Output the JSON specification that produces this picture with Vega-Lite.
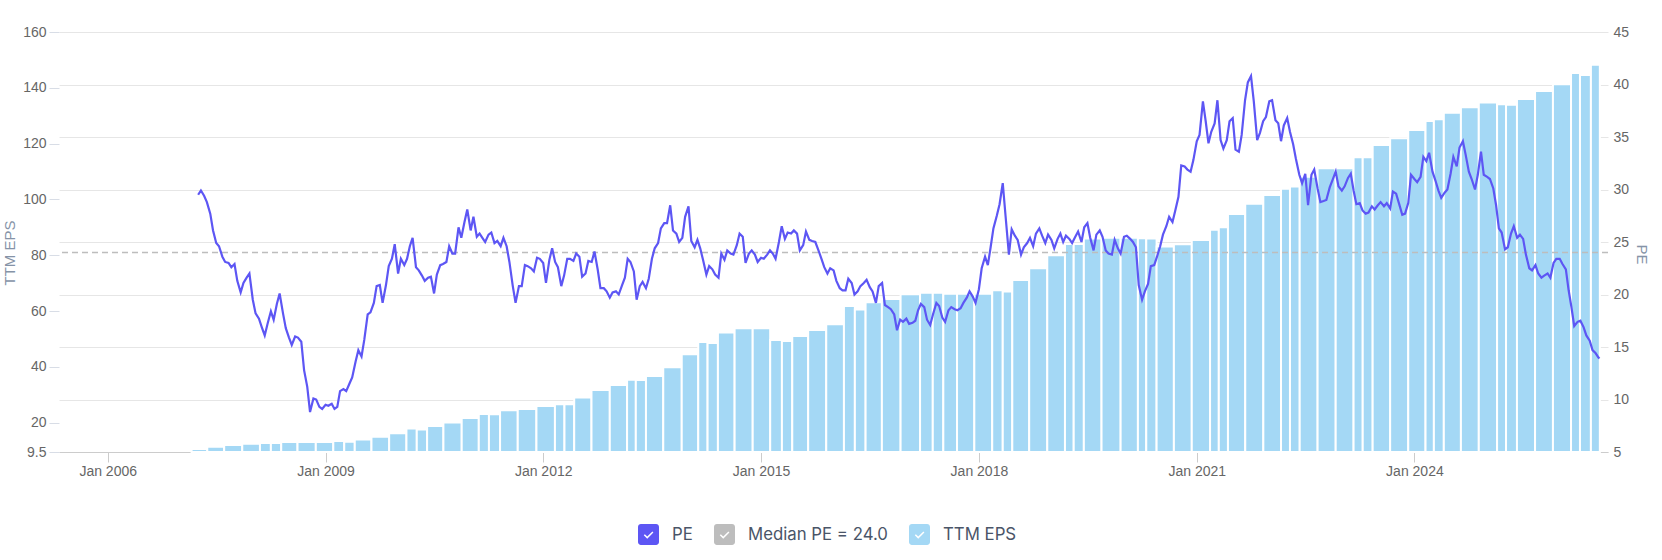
{
  "$schema": "https://vega.github.io/schema/vega-lite/v6.json",
  "width": 1549,
  "height": 420,
  "autosize": {"type": "none"},
  "padding": {"left": 59, "top": 32, "right": 54, "bottom": 108},
  "background": "white",
  "config": {
    "view": {"stroke": null},
    "font": "Liberation Sans",
    "axis": {"labelFont": "Liberation Sans", "titleFont": "Liberation Sans"}
  },
  "datasets": {
    "eps": [
      {"start": "2007-02-27", "end": "2007-05-17", "eps": 10.6},
      {"start": "2007-05-17", "end": "2007-08-10", "eps": 11.4},
      {"start": "2007-08-10", "end": "2007-11-09", "eps": 12.0},
      {"start": "2007-11-09", "end": "2008-02-06", "eps": 12.5},
      {"start": "2008-02-06", "end": "2008-04-01", "eps": 12.7},
      {"start": "2008-04-01", "end": "2008-05-23", "eps": 12.7},
      {"start": "2008-05-23", "end": "2008-08-13", "eps": 13.1},
      {"start": "2008-08-13", "end": "2008-11-13", "eps": 13.1},
      {"start": "2008-11-13", "end": "2009-02-09", "eps": 13.1},
      {"start": "2009-02-09", "end": "2009-04-05", "eps": 13.4},
      {"start": "2009-04-05", "end": "2009-05-28", "eps": 13.2},
      {"start": "2009-05-28", "end": "2009-08-20", "eps": 14.0},
      {"start": "2009-08-20", "end": "2009-11-17", "eps": 15.0},
      {"start": "2009-11-17", "end": "2010-02-12", "eps": 16.2},
      {"start": "2010-02-12", "end": "2010-04-05", "eps": 17.9},
      {"start": "2010-04-05", "end": "2010-05-27", "eps": 17.6},
      {"start": "2010-05-27", "end": "2010-08-17", "eps": 18.8},
      {"start": "2010-08-17", "end": "2010-11-17", "eps": 20.1},
      {"start": "2010-11-17", "end": "2011-02-11", "eps": 21.7},
      {"start": "2011-02-11", "end": "2011-04-03", "eps": 23.1},
      {"start": "2011-04-03", "end": "2011-05-29", "eps": 23.0},
      {"start": "2011-05-29", "end": "2011-08-26", "eps": 24.5},
      {"start": "2011-08-26", "end": "2011-11-28", "eps": 24.9},
      {"start": "2011-11-28", "end": "2012-02-29", "eps": 26.0},
      {"start": "2012-02-29", "end": "2012-04-17", "eps": 26.6},
      {"start": "2012-04-17", "end": "2012-06-05", "eps": 26.6},
      {"start": "2012-06-05", "end": "2012-08-31", "eps": 29.0},
      {"start": "2012-08-31", "end": "2012-12-01", "eps": 31.7},
      {"start": "2012-12-01", "end": "2013-02-26", "eps": 33.5},
      {"start": "2013-02-26", "end": "2013-04-11", "eps": 35.4},
      {"start": "2013-04-11", "end": "2013-06-01", "eps": 35.3},
      {"start": "2013-06-01", "end": "2013-08-27", "eps": 36.7},
      {"start": "2013-08-27", "end": "2013-11-28", "eps": 39.9},
      {"start": "2013-11-28", "end": "2014-02-19", "eps": 44.5},
      {"start": "2014-02-19", "end": "2014-04-07", "eps": 48.9},
      {"start": "2014-04-07", "end": "2014-05-29", "eps": 48.6},
      {"start": "2014-05-29", "end": "2014-08-21", "eps": 52.3},
      {"start": "2014-08-21", "end": "2014-11-20", "eps": 53.8},
      {"start": "2014-11-20", "end": "2015-02-16", "eps": 53.8},
      {"start": "2015-02-16", "end": "2015-04-16", "eps": 49.6},
      {"start": "2015-04-16", "end": "2015-06-07", "eps": 49.3},
      {"start": "2015-06-07", "end": "2015-08-26", "eps": 51.1},
      {"start": "2015-08-26", "end": "2015-11-25", "eps": 53.2},
      {"start": "2015-11-25", "end": "2016-02-22", "eps": 55.3},
      {"start": "2016-02-22", "end": "2016-04-17", "eps": 61.8},
      {"start": "2016-04-17", "end": "2016-06-10", "eps": 60.6},
      {"start": "2016-06-10", "end": "2016-08-31", "eps": 63.2},
      {"start": "2016-08-31", "end": "2016-12-03", "eps": 64.3},
      {"start": "2016-12-03", "end": "2017-03-11", "eps": 66.0},
      {"start": "2017-03-11", "end": "2017-05-14", "eps": 66.6},
      {"start": "2017-05-14", "end": "2017-07-06", "eps": 66.6},
      {"start": "2017-07-06", "end": "2017-09-13", "eps": 66.2},
      {"start": "2017-09-13", "end": "2017-12-09", "eps": 66.2},
      {"start": "2017-12-09", "end": "2018-03-09", "eps": 66.2},
      {"start": "2018-03-09", "end": "2018-05-01", "eps": 67.5},
      {"start": "2018-05-01", "end": "2018-06-18", "eps": 67.0},
      {"start": "2018-06-18", "end": "2018-09-11", "eps": 71.1},
      {"start": "2018-09-11", "end": "2018-12-11", "eps": 75.3},
      {"start": "2018-12-11", "end": "2019-03-10", "eps": 80.0},
      {"start": "2019-03-10", "end": "2019-04-23", "eps": 84.0},
      {"start": "2019-04-23", "end": "2019-06-13", "eps": 84.0},
      {"start": "2019-06-13", "end": "2019-09-10", "eps": 86.0},
      {"start": "2019-09-10", "end": "2019-12-15", "eps": 86.3},
      {"start": "2019-12-15", "end": "2020-03-11", "eps": 86.3},
      {"start": "2020-03-11", "end": "2020-04-22", "eps": 86.1},
      {"start": "2020-04-22", "end": "2020-06-13", "eps": 86.0},
      {"start": "2020-06-13", "end": "2020-09-08", "eps": 83.1},
      {"start": "2020-09-08", "end": "2020-12-07", "eps": 83.9},
      {"start": "2020-12-07", "end": "2021-03-09", "eps": 85.5},
      {"start": "2021-03-09", "end": "2021-04-22", "eps": 89.1},
      {"start": "2021-04-22", "end": "2021-06-07", "eps": 90.0},
      {"start": "2021-06-07", "end": "2021-09-02", "eps": 94.8},
      {"start": "2021-09-02", "end": "2021-12-02", "eps": 98.5},
      {"start": "2021-12-02", "end": "2022-03-01", "eps": 101.6},
      {"start": "2022-03-01", "end": "2022-04-15", "eps": 103.8},
      {"start": "2022-04-15", "end": "2022-06-03", "eps": 104.6},
      {"start": "2022-06-03", "end": "2022-09-01", "eps": 108.1},
      {"start": "2022-09-01", "end": "2022-12-01", "eps": 111.2},
      {"start": "2022-12-01", "end": "2023-03-01", "eps": 111.2},
      {"start": "2023-03-01", "end": "2023-04-16", "eps": 115.1},
      {"start": "2023-04-16", "end": "2023-06-05", "eps": 115.1},
      {"start": "2023-06-05", "end": "2023-09-01", "eps": 119.5},
      {"start": "2023-09-01", "end": "2023-12-01", "eps": 121.9},
      {"start": "2023-12-01", "end": "2024-02-26", "eps": 124.9},
      {"start": "2024-02-26", "end": "2024-04-08", "eps": 128.1},
      {"start": "2024-04-08", "end": "2024-05-28", "eps": 128.7},
      {"start": "2024-05-28", "end": "2024-08-22", "eps": 131.1},
      {"start": "2024-08-22", "end": "2024-11-20", "eps": 133.0},
      {"start": "2024-11-20", "end": "2025-02-20", "eps": 134.7},
      {"start": "2025-02-20", "end": "2025-04-06", "eps": 134.1},
      {"start": "2025-04-06", "end": "2025-05-31", "eps": 133.9},
      {"start": "2025-05-31", "end": "2025-08-30", "eps": 136.0},
      {"start": "2025-08-30", "end": "2025-11-28", "eps": 138.9},
      {"start": "2025-11-28", "end": "2026-02-27", "eps": 141.3},
      {"start": "2026-02-27", "end": "2026-04-13", "eps": 145.3},
      {"start": "2026-04-13", "end": "2026-06-07", "eps": 144.6},
      {"start": "2026-06-07", "end": "2026-07-22", "eps": 148.3}
    ],
    "pe": [
      {"date": "2007-04-01", "pe": 29.5}, {"date": "2007-04-15", "pe": 29.9}, {"date": "2007-05-01", "pe": 29.4}, {"date": "2007-05-15", "pe": 28.8},
      {"date": "2007-06-01", "pe": 27.7}, {"date": "2007-06-15", "pe": 26.1}, {"date": "2007-07-01", "pe": 24.9}, {"date": "2007-07-15", "pe": 24.6},
      {"date": "2007-08-01", "pe": 23.6}, {"date": "2007-08-15", "pe": 23.1}, {"date": "2007-09-01", "pe": 23.0}, {"date": "2007-09-15", "pe": 22.6},
      {"date": "2007-10-01", "pe": 22.9}, {"date": "2007-10-15", "pe": 21.3}, {"date": "2007-11-01", "pe": 20.2}, {"date": "2007-11-15", "pe": 21.1},
      {"date": "2007-12-01", "pe": 21.6}, {"date": "2007-12-15", "pe": 22.0}, {"date": "2008-01-01", "pe": 19.5}, {"date": "2008-01-15", "pe": 18.2},
      {"date": "2008-02-01", "pe": 17.7}, {"date": "2008-02-15", "pe": 16.9}, {"date": "2008-03-01", "pe": 16.1}, {"date": "2008-03-15", "pe": 17.2},
      {"date": "2008-04-01", "pe": 18.4}, {"date": "2008-04-15", "pe": 17.6}, {"date": "2008-05-01", "pe": 19.1}, {"date": "2008-05-15", "pe": 20.1},
      {"date": "2008-06-01", "pe": 18.2}, {"date": "2008-06-15", "pe": 16.8}, {"date": "2008-07-01", "pe": 15.9}, {"date": "2008-07-15", "pe": 15.2},
      {"date": "2008-08-01", "pe": 16.0}, {"date": "2008-08-15", "pe": 15.9}, {"date": "2008-09-01", "pe": 15.5}, {"date": "2008-09-15", "pe": 12.8},
      {"date": "2008-10-01", "pe": 11.2}, {"date": "2008-10-15", "pe": 8.8}, {"date": "2008-11-01", "pe": 10.1}, {"date": "2008-11-15", "pe": 10.0},
      {"date": "2008-12-01", "pe": 9.3}, {"date": "2008-12-15", "pe": 9.1}, {"date": "2009-01-01", "pe": 9.5}, {"date": "2009-01-15", "pe": 9.4},
      {"date": "2009-02-01", "pe": 9.6}, {"date": "2009-02-15", "pe": 9.1}, {"date": "2009-03-01", "pe": 9.3}, {"date": "2009-03-15", "pe": 10.8},
      {"date": "2009-04-01", "pe": 11.0}, {"date": "2009-04-15", "pe": 10.8}, {"date": "2009-05-01", "pe": 11.5}, {"date": "2009-05-15", "pe": 12.1},
      {"date": "2009-06-01", "pe": 13.6}, {"date": "2009-06-15", "pe": 14.7}, {"date": "2009-07-01", "pe": 14.1}, {"date": "2009-07-15", "pe": 15.7},
      {"date": "2009-08-01", "pe": 18.1}, {"date": "2009-08-15", "pe": 18.3}, {"date": "2009-09-01", "pe": 19.2}, {"date": "2009-09-15", "pe": 20.8},
      {"date": "2009-10-01", "pe": 20.9}, {"date": "2009-10-15", "pe": 19.2}, {"date": "2009-11-01", "pe": 20.9}, {"date": "2009-11-15", "pe": 22.7},
      {"date": "2009-12-01", "pe": 23.4}, {"date": "2009-12-15", "pe": 24.8}, {"date": "2010-01-01", "pe": 22.0}, {"date": "2010-01-15", "pe": 23.4},
      {"date": "2010-02-01", "pe": 22.8}, {"date": "2010-02-15", "pe": 23.4}, {"date": "2010-03-01", "pe": 24.6}, {"date": "2010-03-15", "pe": 25.4},
      {"date": "2010-04-01", "pe": 22.6}, {"date": "2010-04-15", "pe": 22.3}, {"date": "2010-05-01", "pe": 21.8}, {"date": "2010-05-15", "pe": 21.3},
      {"date": "2010-06-01", "pe": 21.6}, {"date": "2010-06-15", "pe": 21.7}, {"date": "2010-07-01", "pe": 20.1}, {"date": "2010-07-15", "pe": 21.9},
      {"date": "2010-08-01", "pe": 22.8}, {"date": "2010-08-15", "pe": 22.9}, {"date": "2010-09-01", "pe": 23.1}, {"date": "2010-09-15", "pe": 24.6},
      {"date": "2010-10-01", "pe": 23.9}, {"date": "2010-10-15", "pe": 23.9}, {"date": "2010-11-01", "pe": 26.4}, {"date": "2010-11-15", "pe": 25.4},
      {"date": "2010-12-01", "pe": 26.9}, {"date": "2010-12-15", "pe": 28.1}, {"date": "2011-01-01", "pe": 26.1}, {"date": "2011-01-15", "pe": 27.4},
      {"date": "2011-02-01", "pe": 25.5}, {"date": "2011-02-15", "pe": 25.8}, {"date": "2011-03-01", "pe": 25.4}, {"date": "2011-03-15", "pe": 25.0},
      {"date": "2011-04-01", "pe": 25.7}, {"date": "2011-04-15", "pe": 25.9}, {"date": "2011-05-01", "pe": 24.9}, {"date": "2011-05-15", "pe": 25.1},
      {"date": "2011-06-01", "pe": 24.6}, {"date": "2011-06-15", "pe": 25.4}, {"date": "2011-07-01", "pe": 24.6}, {"date": "2011-07-15", "pe": 23.1},
      {"date": "2011-08-01", "pe": 20.8}, {"date": "2011-08-15", "pe": 19.2}, {"date": "2011-09-01", "pe": 20.8}, {"date": "2011-09-15", "pe": 20.8},
      {"date": "2011-10-01", "pe": 22.8}, {"date": "2011-10-15", "pe": 22.7}, {"date": "2011-11-01", "pe": 22.5}, {"date": "2011-11-15", "pe": 22.2},
      {"date": "2011-12-01", "pe": 23.5}, {"date": "2011-12-15", "pe": 23.4}, {"date": "2012-01-01", "pe": 23.0}, {"date": "2012-01-15", "pe": 21.1},
      {"date": "2012-02-01", "pe": 23.3}, {"date": "2012-02-15", "pe": 24.4}, {"date": "2012-03-01", "pe": 23.1}, {"date": "2012-03-15", "pe": 22.6},
      {"date": "2012-04-01", "pe": 20.8}, {"date": "2012-04-15", "pe": 21.8}, {"date": "2012-05-01", "pe": 23.4}, {"date": "2012-05-15", "pe": 23.4},
      {"date": "2012-06-01", "pe": 23.2}, {"date": "2012-06-15", "pe": 23.9}, {"date": "2012-07-01", "pe": 23.6}, {"date": "2012-07-15", "pe": 21.7},
      {"date": "2012-08-01", "pe": 22.0}, {"date": "2012-08-15", "pe": 23.2}, {"date": "2012-09-01", "pe": 23.1}, {"date": "2012-09-15", "pe": 24.1},
      {"date": "2012-10-01", "pe": 22.4}, {"date": "2012-10-15", "pe": 20.6}, {"date": "2012-11-01", "pe": 20.6}, {"date": "2012-11-15", "pe": 20.3},
      {"date": "2012-12-01", "pe": 19.7}, {"date": "2012-12-15", "pe": 20.2}, {"date": "2013-01-01", "pe": 20.3}, {"date": "2013-01-15", "pe": 20.0},
      {"date": "2013-02-01", "pe": 20.9}, {"date": "2013-02-15", "pe": 21.6}, {"date": "2013-03-01", "pe": 23.4}, {"date": "2013-03-15", "pe": 23.1},
      {"date": "2013-04-01", "pe": 22.2}, {"date": "2013-04-15", "pe": 19.5}, {"date": "2013-05-01", "pe": 20.8}, {"date": "2013-05-15", "pe": 21.2},
      {"date": "2013-06-01", "pe": 20.6}, {"date": "2013-06-15", "pe": 21.5}, {"date": "2013-07-01", "pe": 23.4}, {"date": "2013-07-15", "pe": 24.4},
      {"date": "2013-08-01", "pe": 24.9}, {"date": "2013-08-15", "pe": 26.3}, {"date": "2013-09-01", "pe": 26.8}, {"date": "2013-09-15", "pe": 26.8},
      {"date": "2013-10-01", "pe": 28.5}, {"date": "2013-10-15", "pe": 26.1}, {"date": "2013-11-01", "pe": 25.8}, {"date": "2013-11-15", "pe": 25.0},
      {"date": "2013-12-01", "pe": 25.4}, {"date": "2013-12-15", "pe": 27.4}, {"date": "2014-01-01", "pe": 28.4}, {"date": "2014-01-15", "pe": 25.1},
      {"date": "2014-02-01", "pe": 24.5}, {"date": "2014-02-15", "pe": 25.2}, {"date": "2014-03-01", "pe": 24.4}, {"date": "2014-03-15", "pe": 23.3},
      {"date": "2014-04-01", "pe": 21.9}, {"date": "2014-04-15", "pe": 22.7}, {"date": "2014-05-01", "pe": 22.4}, {"date": "2014-05-15", "pe": 21.9},
      {"date": "2014-06-01", "pe": 21.6}, {"date": "2014-06-15", "pe": 23.9}, {"date": "2014-07-01", "pe": 23.3}, {"date": "2014-07-15", "pe": 24.2},
      {"date": "2014-08-01", "pe": 23.9}, {"date": "2014-08-15", "pe": 23.8}, {"date": "2014-09-01", "pe": 24.7}, {"date": "2014-09-15", "pe": 25.8},
      {"date": "2014-10-01", "pe": 25.5}, {"date": "2014-10-15", "pe": 23.0}, {"date": "2014-11-01", "pe": 23.9}, {"date": "2014-11-15", "pe": 24.2},
      {"date": "2014-12-01", "pe": 23.8}, {"date": "2014-12-15", "pe": 23.1}, {"date": "2015-01-01", "pe": 23.5}, {"date": "2015-01-15", "pe": 23.4},
      {"date": "2015-02-01", "pe": 23.8}, {"date": "2015-02-15", "pe": 24.2}, {"date": "2015-03-01", "pe": 23.9}, {"date": "2015-03-15", "pe": 23.4},
      {"date": "2015-04-01", "pe": 25.0}, {"date": "2015-04-15", "pe": 26.5}, {"date": "2015-05-01", "pe": 25.3}, {"date": "2015-05-15", "pe": 25.9},
      {"date": "2015-06-01", "pe": 25.8}, {"date": "2015-06-15", "pe": 26.1}, {"date": "2015-07-01", "pe": 25.8}, {"date": "2015-07-15", "pe": 24.2},
      {"date": "2015-08-01", "pe": 24.7}, {"date": "2015-08-15", "pe": 26.0}, {"date": "2015-09-01", "pe": 25.2}, {"date": "2015-09-15", "pe": 25.1},
      {"date": "2015-10-01", "pe": 25.0}, {"date": "2015-10-15", "pe": 24.3}, {"date": "2015-11-01", "pe": 23.4}, {"date": "2015-11-15", "pe": 22.6},
      {"date": "2015-12-01", "pe": 22.0}, {"date": "2015-12-15", "pe": 22.5}, {"date": "2016-01-01", "pe": 22.3}, {"date": "2016-01-15", "pe": 21.3},
      {"date": "2016-02-01", "pe": 20.6}, {"date": "2016-02-15", "pe": 20.4}, {"date": "2016-03-01", "pe": 20.4}, {"date": "2016-03-15", "pe": 21.5},
      {"date": "2016-04-01", "pe": 21.1}, {"date": "2016-04-15", "pe": 20.0}, {"date": "2016-05-01", "pe": 20.3}, {"date": "2016-05-15", "pe": 20.8},
      {"date": "2016-06-01", "pe": 21.1}, {"date": "2016-06-15", "pe": 21.4}, {"date": "2016-07-01", "pe": 20.7}, {"date": "2016-07-15", "pe": 20.3},
      {"date": "2016-08-01", "pe": 19.2}, {"date": "2016-08-15", "pe": 20.8}, {"date": "2016-09-01", "pe": 21.1}, {"date": "2016-09-15", "pe": 19.0},
      {"date": "2016-10-01", "pe": 18.8}, {"date": "2016-10-15", "pe": 18.6}, {"date": "2016-11-01", "pe": 18.1}, {"date": "2016-11-15", "pe": 16.6},
      {"date": "2016-12-01", "pe": 17.6}, {"date": "2016-12-15", "pe": 17.4}, {"date": "2017-01-01", "pe": 17.7}, {"date": "2017-01-15", "pe": 17.2},
      {"date": "2017-02-01", "pe": 17.3}, {"date": "2017-02-15", "pe": 17.5}, {"date": "2017-03-01", "pe": 18.5}, {"date": "2017-03-15", "pe": 19.1},
      {"date": "2017-04-01", "pe": 18.8}, {"date": "2017-04-15", "pe": 17.6}, {"date": "2017-05-01", "pe": 17.1}, {"date": "2017-05-15", "pe": 18.1},
      {"date": "2017-06-01", "pe": 19.2}, {"date": "2017-06-15", "pe": 18.9}, {"date": "2017-07-01", "pe": 17.8}, {"date": "2017-07-15", "pe": 17.4},
      {"date": "2017-08-01", "pe": 18.5}, {"date": "2017-08-15", "pe": 18.8}, {"date": "2017-09-01", "pe": 18.6}, {"date": "2017-09-15", "pe": 18.5},
      {"date": "2017-10-01", "pe": 18.7}, {"date": "2017-10-15", "pe": 19.2}, {"date": "2017-11-01", "pe": 19.7}, {"date": "2017-11-15", "pe": 20.3},
      {"date": "2017-12-01", "pe": 19.8}, {"date": "2017-12-15", "pe": 19.2}, {"date": "2018-01-01", "pe": 20.5}, {"date": "2018-01-15", "pe": 22.5},
      {"date": "2018-02-01", "pe": 23.6}, {"date": "2018-02-15", "pe": 22.8}, {"date": "2018-03-01", "pe": 24.5}, {"date": "2018-03-15", "pe": 26.3},
      {"date": "2018-04-01", "pe": 27.5}, {"date": "2018-04-15", "pe": 28.6}, {"date": "2018-05-01", "pe": 30.6}, {"date": "2018-05-15", "pe": 27.5},
      {"date": "2018-06-01", "pe": 23.8}, {"date": "2018-06-15", "pe": 26.2}, {"date": "2018-07-01", "pe": 25.6}, {"date": "2018-07-15", "pe": 25.2},
      {"date": "2018-08-01", "pe": 23.8}, {"date": "2018-08-15", "pe": 24.5}, {"date": "2018-09-01", "pe": 24.9}, {"date": "2018-09-15", "pe": 25.4},
      {"date": "2018-10-01", "pe": 24.6}, {"date": "2018-10-15", "pe": 25.8}, {"date": "2018-11-01", "pe": 26.3}, {"date": "2018-11-15", "pe": 25.6},
      {"date": "2018-12-01", "pe": 24.9}, {"date": "2018-12-15", "pe": 25.7}, {"date": "2019-01-01", "pe": 25.2}, {"date": "2019-01-15", "pe": 24.4},
      {"date": "2019-02-01", "pe": 25.3}, {"date": "2019-02-15", "pe": 25.8}, {"date": "2019-03-01", "pe": 25.0}, {"date": "2019-03-15", "pe": 25.6},
      {"date": "2019-04-01", "pe": 25.3}, {"date": "2019-04-15", "pe": 24.9}, {"date": "2019-05-01", "pe": 25.5}, {"date": "2019-05-15", "pe": 26.0},
      {"date": "2019-06-01", "pe": 25.0}, {"date": "2019-06-15", "pe": 26.4}, {"date": "2019-07-01", "pe": 26.8}, {"date": "2019-07-15", "pe": 25.4},
      {"date": "2019-08-01", "pe": 24.2}, {"date": "2019-08-15", "pe": 25.7}, {"date": "2019-09-01", "pe": 26.1}, {"date": "2019-09-15", "pe": 25.5},
      {"date": "2019-10-01", "pe": 24.2}, {"date": "2019-10-15", "pe": 23.9}, {"date": "2019-11-01", "pe": 23.8}, {"date": "2019-11-15", "pe": 25.2},
      {"date": "2019-12-01", "pe": 24.4}, {"date": "2019-12-15", "pe": 23.9}, {"date": "2020-01-01", "pe": 25.5}, {"date": "2020-01-15", "pe": 25.6},
      {"date": "2020-02-01", "pe": 25.3}, {"date": "2020-02-15", "pe": 25.0}, {"date": "2020-03-01", "pe": 24.5}, {"date": "2020-03-15", "pe": 20.9},
      {"date": "2020-04-01", "pe": 19.5}, {"date": "2020-04-15", "pe": 20.3}, {"date": "2020-05-01", "pe": 21.0}, {"date": "2020-05-15", "pe": 22.7},
      {"date": "2020-06-01", "pe": 22.8}, {"date": "2020-06-15", "pe": 23.6}, {"date": "2020-07-01", "pe": 24.6}, {"date": "2020-07-15", "pe": 25.7},
      {"date": "2020-08-01", "pe": 26.5}, {"date": "2020-08-15", "pe": 27.4}, {"date": "2020-09-01", "pe": 26.9}, {"date": "2020-09-15", "pe": 28.0},
      {"date": "2020-10-01", "pe": 29.3}, {"date": "2020-10-15", "pe": 32.3}, {"date": "2020-11-01", "pe": 32.2}, {"date": "2020-11-15", "pe": 31.9},
      {"date": "2020-12-01", "pe": 31.7}, {"date": "2020-12-15", "pe": 32.8}, {"date": "2021-01-01", "pe": 34.6}, {"date": "2021-01-15", "pe": 35.2},
      {"date": "2021-02-01", "pe": 38.4}, {"date": "2021-02-15", "pe": 36.5}, {"date": "2021-03-01", "pe": 34.4}, {"date": "2021-03-15", "pe": 35.5},
      {"date": "2021-04-01", "pe": 36.3}, {"date": "2021-04-15", "pe": 38.5}, {"date": "2021-05-01", "pe": 34.7}, {"date": "2021-05-15", "pe": 33.9},
      {"date": "2021-06-01", "pe": 34.7}, {"date": "2021-06-15", "pe": 36.5}, {"date": "2021-07-01", "pe": 36.8}, {"date": "2021-07-15", "pe": 33.8},
      {"date": "2021-08-01", "pe": 33.6}, {"date": "2021-08-15", "pe": 35.2}, {"date": "2021-09-01", "pe": 38.5}, {"date": "2021-09-15", "pe": 40.2},
      {"date": "2021-10-01", "pe": 40.8}, {"date": "2021-10-15", "pe": 38.4}, {"date": "2021-11-01", "pe": 34.7}, {"date": "2021-11-15", "pe": 35.4},
      {"date": "2021-12-01", "pe": 36.5}, {"date": "2021-12-15", "pe": 36.9}, {"date": "2022-01-01", "pe": 38.4}, {"date": "2022-01-15", "pe": 38.5},
      {"date": "2022-02-01", "pe": 36.6}, {"date": "2022-02-15", "pe": 36.3}, {"date": "2022-03-01", "pe": 34.6}, {"date": "2022-03-15", "pe": 36.1},
      {"date": "2022-04-01", "pe": 36.8}, {"date": "2022-04-15", "pe": 35.5}, {"date": "2022-05-01", "pe": 34.3}, {"date": "2022-05-15", "pe": 32.9},
      {"date": "2022-06-01", "pe": 31.4}, {"date": "2022-06-15", "pe": 30.6}, {"date": "2022-07-01", "pe": 31.5}, {"date": "2022-07-15", "pe": 28.5},
      {"date": "2022-08-01", "pe": 31.4}, {"date": "2022-08-15", "pe": 31.9}, {"date": "2022-09-01", "pe": 30.1}, {"date": "2022-09-15", "pe": 28.8},
      {"date": "2022-10-01", "pe": 28.9}, {"date": "2022-10-15", "pe": 29.0}, {"date": "2022-11-01", "pe": 30.2}, {"date": "2022-11-15", "pe": 30.9},
      {"date": "2022-12-01", "pe": 31.7}, {"date": "2022-12-15", "pe": 30.3}, {"date": "2023-01-01", "pe": 29.9}, {"date": "2023-01-15", "pe": 30.3},
      {"date": "2023-02-01", "pe": 31.1}, {"date": "2023-02-15", "pe": 31.5}, {"date": "2023-03-01", "pe": 29.9}, {"date": "2023-03-15", "pe": 28.6},
      {"date": "2023-04-01", "pe": 28.7}, {"date": "2023-04-15", "pe": 28.0}, {"date": "2023-05-01", "pe": 27.7}, {"date": "2023-05-15", "pe": 27.8},
      {"date": "2023-06-01", "pe": 28.4}, {"date": "2023-06-15", "pe": 28.1}, {"date": "2023-07-01", "pe": 28.5}, {"date": "2023-07-15", "pe": 28.8},
      {"date": "2023-08-01", "pe": 28.4}, {"date": "2023-08-15", "pe": 28.7}, {"date": "2023-09-01", "pe": 28.2}, {"date": "2023-09-15", "pe": 29.8},
      {"date": "2023-10-01", "pe": 29.6}, {"date": "2023-10-15", "pe": 28.7}, {"date": "2023-11-01", "pe": 27.6}, {"date": "2023-11-15", "pe": 27.7},
      {"date": "2023-12-01", "pe": 28.7}, {"date": "2023-12-15", "pe": 31.4}, {"date": "2024-01-01", "pe": 31.0}, {"date": "2024-01-15", "pe": 30.7},
      {"date": "2024-02-01", "pe": 31.2}, {"date": "2024-02-15", "pe": 33.1}, {"date": "2024-03-01", "pe": 32.7}, {"date": "2024-03-15", "pe": 33.5},
      {"date": "2024-04-01", "pe": 31.7}, {"date": "2024-04-15", "pe": 30.9}, {"date": "2024-05-01", "pe": 29.9}, {"date": "2024-05-15", "pe": 29.2},
      {"date": "2024-06-01", "pe": 29.7}, {"date": "2024-06-15", "pe": 30.0}, {"date": "2024-07-01", "pe": 31.5}, {"date": "2024-07-15", "pe": 33.1},
      {"date": "2024-08-01", "pe": 32.2}, {"date": "2024-08-15", "pe": 34.0}, {"date": "2024-09-01", "pe": 34.6}, {"date": "2024-09-15", "pe": 33.3},
      {"date": "2024-10-01", "pe": 31.7}, {"date": "2024-10-15", "pe": 31.0}, {"date": "2024-11-01", "pe": 30.0}, {"date": "2024-11-15", "pe": 31.4},
      {"date": "2024-12-01", "pe": 33.6}, {"date": "2024-12-15", "pe": 31.4}, {"date": "2025-01-01", "pe": 31.2}, {"date": "2025-01-15", "pe": 31.0},
      {"date": "2025-02-01", "pe": 30.1}, {"date": "2025-02-15", "pe": 28.5}, {"date": "2025-03-01", "pe": 26.3}, {"date": "2025-03-15", "pe": 25.9},
      {"date": "2025-04-01", "pe": 24.3}, {"date": "2025-04-15", "pe": 24.5}, {"date": "2025-05-01", "pe": 25.8}, {"date": "2025-05-15", "pe": 26.5},
      {"date": "2025-06-01", "pe": 25.4}, {"date": "2025-06-15", "pe": 25.7}, {"date": "2025-07-01", "pe": 25.3}, {"date": "2025-07-15", "pe": 23.8},
      {"date": "2025-08-01", "pe": 22.5}, {"date": "2025-08-15", "pe": 22.3}, {"date": "2025-09-01", "pe": 22.8}, {"date": "2025-09-15", "pe": 22.0},
      {"date": "2025-10-01", "pe": 21.6}, {"date": "2025-10-15", "pe": 21.8}, {"date": "2025-11-01", "pe": 22.0}, {"date": "2025-11-15", "pe": 21.6},
      {"date": "2025-12-01", "pe": 23.0}, {"date": "2025-12-15", "pe": 23.4}, {"date": "2026-01-01", "pe": 23.4}, {"date": "2026-01-15", "pe": 22.9},
      {"date": "2026-02-01", "pe": 22.4}, {"date": "2026-02-15", "pe": 20.4}, {"date": "2026-03-01", "pe": 18.8}, {"date": "2026-03-15", "pe": 17.0},
      {"date": "2026-04-01", "pe": 17.4}, {"date": "2026-04-15", "pe": 17.5}, {"date": "2026-05-01", "pe": 16.9}, {"date": "2026-05-15", "pe": 16.1},
      {"date": "2026-06-01", "pe": 15.6}, {"date": "2026-06-15", "pe": 14.7}, {"date": "2026-07-01", "pe": 14.4}, {"date": "2026-07-15", "pe": 14.0},
      {"date": "2026-07-20", "pe": 13.9}
    ],
    "median": [{"label": "Median PE = 24.0", "pe": 24.0}]
  },
  "layer": [
    {
      "data": {"name": "eps"},
      "mark": {"type": "bar", "stroke": "white", "strokeWidth": 2},
      "encoding": {
        "x": {
          "field": "start",
          "type": "temporal",
          "title": null,
          "scale": {
            "type": "utc",
            "domain": [
              {"year": 2005, "month": 5, "date": 1, "utc": true},
              {"year": 2026, "month": 9, "date": 1, "utc": true}
            ]
          },
          "axis": {
            "values": [
              {"year": 2006, "month": 1, "date": 1, "utc": true},
              {"year": 2009, "month": 1, "date": 1, "utc": true},
              {"year": 2012, "month": 1, "date": 1, "utc": true},
              {"year": 2015, "month": 1, "date": 1, "utc": true},
              {"year": 2018, "month": 1, "date": 1, "utc": true},
              {"year": 2021, "month": 1, "date": 1, "utc": true},
              {"year": 2024, "month": 1, "date": 1, "utc": true}
            ],
            "format": "%b %Y",
            "title": null,
            "grid": false,
            "domain": true,
            "domainColor": "#cccccc",
            "ticks": true,
            "tickColor": "#cccccc",
            "tickSize": 10,
            "labelPadding": 2,
            "labelFontSize": 14,
            "labelColor": "#666666"
          }
        },
        "x2": {"field": "end"},
        "y": {
          "field": "eps",
          "type": "quantitative",
          "scale": {"domain": [9.5, 160], "nice": false, "zero": false},
          "axis": {
            "orient": "left",
            "values": [9.5, 20, 40, 60, 80, 100, 120, 140, 160],
            "format": "~r",
            "grid": false,
            "domain": false,
            "ticks": true,
            "tickSize": 10,
            "tickColor": "#d8dde6",
            "labelPadding": 3,
            "labelFontSize": 14,
            "labelColor": "#666666",
            "title": "TTM EPS",
            "titleColor": "#8593a7",
            "titleFontSize": 15,
            "titleFontWeight": "normal",
            "titleAngle": -90,
            "titleX": -50,
            "titleY": 220.5,
            "titleAlign": "center",
            "titleBaseline": "middle"
          }
        },
        "y2": {"datum": 9.5},
        "color": {
          "datum": "TTM EPS",
          "type": "nominal",
          "scale": {
            "domain": ["PE", "Median PE = 24.0", "TTM EPS"],
            "range": ["#5d56f4", "#bdbdbd", "#a4d8f5"]
          },
          "legend": {
            "orient": "none",
            "legendX": 579,
            "legendY": 492,
            "direction": "horizontal",
            "title": null,
            "padding": 0,
            "symbolType": "M-0.72,-1H0.72A0.28,0.28 0 0 1 1,-0.72V0.72A0.28,0.28 0 0 1 0.72,1H-0.72A0.28,0.28 0 0 1 -1,0.72V-0.72A0.28,0.28 0 0 1 -0.72,-1ZM-0.45,0.07L-0.12,0.4L0.47,-0.19L0.37,-0.29L-0.12,0.2L-0.35,-0.03Z",
            "symbolSize": 441,
            "symbolStrokeWidth": 0,
            "labelFont": "Inter",
            "labelFontSize": 16.8,
            "labelColor": "#4a5568",
            "labelOffset": 13,
            "labelLimit": 400,
            "columnPadding": 21,
            "encode": {
              "symbols": {
                "update": {
                  "fill": {"scale": "color", "field": "value"},
                  "fillOpacity": {"value": 1},
                  "strokeWidth": {"value": 0}
                }
              }
            }
          }
        }
      }
    },
    {
      "layer": [
        {
          "data": {"name": "median"},
          "mark": {"type": "rule", "strokeDash": [6, 4], "strokeWidth": 1.5},
          "encoding": {
            "y": {
              "field": "pe",
              "type": "quantitative",
              "title": "PE",
              "scale": {"domain": [5, 45], "nice": false, "zero": false},
              "axis": {
                "orient": "right",
                "values": [5, 10, 15, 20, 25, 30, 35, 40, 45],
                "grid": true,
                "gridColor": "#e6e6e6",
                "gridWidth": 1,
                "domain": false,
                "ticks": false,
                "tickSize": 0,
                "labelPadding": 5,
                "labelFontSize": 14,
                "labelColor": "#666666",
                "title": "PE",
                "titleColor": "#8593a7",
                "titleFontSize": 15,
                "titleFontWeight": "normal",
                "titleAngle": 90,
                "titleX": 33.5,
                "titleY": 222,
                "titleAlign": "center",
                "titleBaseline": "middle"
              }
            },
            "color": {"field": "label", "type": "nominal", "legend": null}
          }
        },
        {
          "data": {"name": "pe"},
          "mark": {"type": "line", "strokeWidth": 2.2, "interpolate": "linear"},
          "encoding": {
            "x": {
              "field": "date",
              "type": "temporal",
              "title": null,
              "axis": {
                "values": [
                  {"year": 2006, "month": 1, "date": 1, "utc": true},
                  {"year": 2009, "month": 1, "date": 1, "utc": true},
                  {"year": 2012, "month": 1, "date": 1, "utc": true},
                  {"year": 2015, "month": 1, "date": 1, "utc": true},
                  {"year": 2018, "month": 1, "date": 1, "utc": true},
                  {"year": 2021, "month": 1, "date": 1, "utc": true},
                  {"year": 2024, "month": 1, "date": 1, "utc": true}
                ],
                "format": "%b %Y",
                "title": null,
                "grid": false,
                "domain": true,
                "domainColor": "#cccccc",
                "ticks": true,
                "tickColor": "#cccccc",
                "tickSize": 10,
                "labelPadding": 2,
                "labelFontSize": 14,
                "labelColor": "#666666"
              }
            },
            "y": {
              "field": "pe",
              "type": "quantitative",
              "title": "PE",
              "scale": {"domain": [5, 45], "nice": false, "zero": false},
              "axis": {
                "orient": "right",
                "values": [5, 10, 15, 20, 25, 30, 35, 40, 45],
                "grid": true,
                "gridColor": "#e6e6e6",
                "gridWidth": 1,
                "domain": false,
                "ticks": false,
                "tickSize": 0,
                "labelPadding": 5,
                "labelFontSize": 14,
                "labelColor": "#666666",
                "title": "PE",
                "titleColor": "#8593a7",
                "titleFontSize": 15,
                "titleFontWeight": "normal",
                "titleAngle": 90,
                "titleX": 33.5,
                "titleY": 222,
                "titleAlign": "center",
                "titleBaseline": "middle"
              }
            },
            "color": {"datum": "PE", "type": "nominal", "legend": null}
          }
        }
      ]
    }
  ],
  "resolve": {"scale": {"y": "independent"}, "axis": {"y": "independent"}}
}
